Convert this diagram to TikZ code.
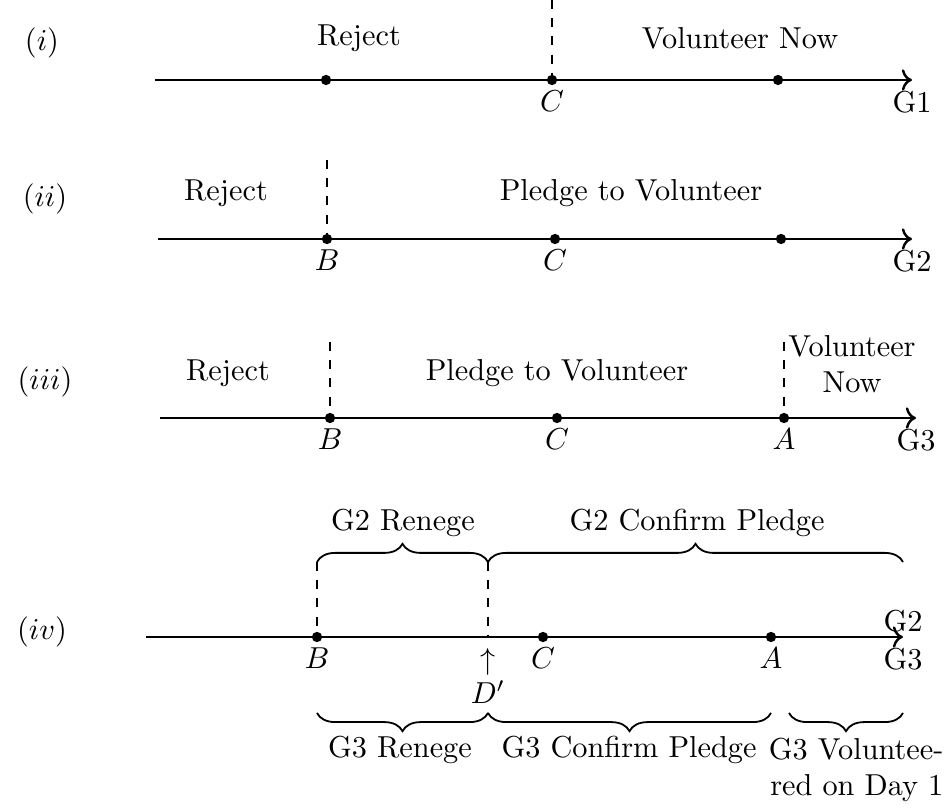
\documentclass[tikz,border=0pt]{standalone}
\usepackage{amsmath}
\usepackage{tikz}
\usetikzlibrary{arrows.meta}
\usetikzlibrary{positioning,decorations.pathreplacing}

\begin{document}
\begin{tikzpicture}[
x=0.33pt,y=-0.33pt,
MyAxis/.style={draw=black,thick,->},
MyPoints/.style={fill=black},
MyGuides/.style={draw=black,dashed},
MyBraces/.style={draw=black,semithick,decorate,decoration={brace,amplitude=6pt}},
MyBracesBelow/.style={draw=black,semithick,decorate,decoration={brace,mirror,amplitude=6pt}}
]
\useasboundingbox (0,0) rectangle (950,809);

% (i)
\coordinate (S1) at (155,80);
\coordinate (E1) at (912,80);
\coordinate (P1) at (326,80);
\coordinate (C1) at (552,80);
\coordinate (Q1) at (778,80);
\coordinate (T1) at (552,0);
\draw[MyAxis] (S1)--(E1);
\draw[MyGuides] (T1)--(C1);
\foreach \p in {P1,C1,Q1} \fill[MyPoints] (\p) circle (1.7pt);
\node[below] (LC1) at (C1) {$C$};
\node[below] (LG1) at (E1) {G1};
\node (Rej1) at (359,38) {Reject};
\node (Vol1) at (740,38) {Volunteer Now};
\node (Num1) at (42,43) {$(i)$};

% (ii)
\coordinate (S2) at (158,239);
\coordinate (E2) at (912,239);
\coordinate (B2) at (327,239);
\coordinate (C2) at (555,239);
\coordinate (Q2) at (781,239);
\coordinate (T2) at (327,160);
\draw[MyAxis] (S2)--(E2);
\draw[MyGuides] (T2)--(B2);
\foreach \p in {B2,C2,Q2} \fill[MyPoints] (\p) circle (1.7pt);
\node[below] (LB2) at (B2) {$B$};
\node[below] (LC2) at (C2) {$C$};
\node[below] (LG2) at (E2) {G2};
\node (Rej2) at (226,193) {Reject};
\node (Pl2) at (631,193) {Pledge to Volunteer};
\node (Num2) at (45,199) {$(ii)$};

% (iii)
\coordinate (S3) at (160,418);
\coordinate (E3) at (916,418);
\coordinate (B3) at (330,418);
\coordinate (C3) at (557,418);
\coordinate (A3) at (784,418);
\coordinate (TB3) at (330,342);
\coordinate (TA3) at (784,342);
\draw[MyAxis] (S3)--(E3);
\draw[MyGuides] (TB3)--(B3);
\draw[MyGuides] (TA3)--(A3);
\foreach \p in {B3,C3,A3} \fill[MyPoints] (\p) circle (1.7pt);
\node[below] (LB3) at (B3) {$B$};
\node[below] (LC3) at (C3) {$C$};
\node[below] (LA3) at (A3) {$A$};
\node[below] (LG3) at (E3) {G3};
\node (Rej3) at (228,373) {Reject};
\node (Pl3) at (557,373) {Pledge to Volunteer};
\node[align=center] (Vol3) at (852,364) {Volunteer\\Now};
\node (Num3) at (45,382) {$(iii)$};

% (iv)
\coordinate (S4) at (146,637);
\coordinate (E4) at (903,637);
\coordinate (B4) at (317,637);
\coordinate (D4) at (488,637);
\coordinate (C4) at (543,637);
\coordinate (A4) at (771,637);
\coordinate (TB4) at (317,562);
\coordinate (TD4) at (488,562);
\coordinate (TE4) at (903,562);
\coordinate (UB4) at (317,713);
\coordinate (UD4) at (488,713);
\coordinate (UA4) at (771,713);
\coordinate (UV4) at (789,713);
\coordinate (UE4) at (903,713);
\draw[MyAxis] (S4)--(E4);
\draw[MyGuides] (TB4)--(B4);
\draw[MyGuides] (TD4)--(D4);
\foreach \p in {B4,C4,A4} \fill[MyPoints] (\p) circle (1.7pt);
\node[below] (LB4) at (B4) {$B$};
\node[below] (LC4) at (C4) {$C$};
\node[below] (LA4) at (A4) {$A$};
\node[above,inner sep=1.5pt] (LG2b) at (E4) {G2};
\node[below] (LG3b) at (E4) {G3};
\node (Up4) at (488,662) {$\uparrow$};
\node (LD4) at (488,692) {$D'$};
\draw[MyBraces] (TB4)--(TD4);
\draw[MyBraces] (TD4)--(TE4);
\node (Ren2) at (403,523) {G2 Renege};
\node (Con2) at (697,523) {G2 Confirm Pledge};
\draw[MyBracesBelow] (UB4)--(UD4);
\draw[MyBracesBelow] (UD4)--(UA4);
\draw[MyBracesBelow] (UV4)--(UE4);
\node (Ren3) at (400,750) {G3 Renege};
\node (Con3) at (629,750) {G3 Confirm Pledge};
\node[align=right,anchor=east,inner sep=1pt] (Vol4) at (947,770) {G3 Voluntee-\\red on Day 1};
\node (Num4) at (42,632) {$(iv)$};

\end{tikzpicture}
\end{document}
